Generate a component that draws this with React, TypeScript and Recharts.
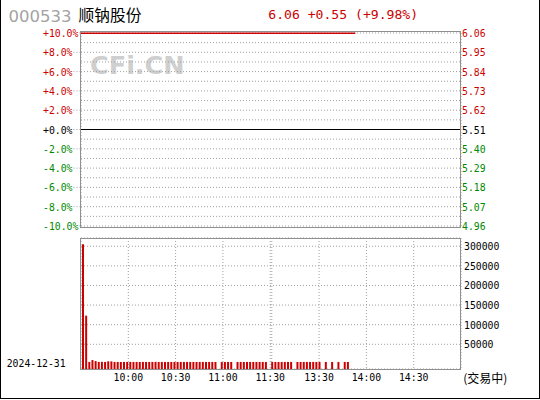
import {
  Bar,
  BarChart,
  CartesianGrid,
  ComposedChart,
  Line,
  ReferenceLine,
  XAxis,
  YAxis,
} from 'recharts';

// ── quote header ──────────────────────────────────────────────
const STOCK_CODE = '000533';
const STOCK_NAME = '顺钠股份';
const TRADE_DATE = '2024-12-31';
const STATUS_TEXT = '(交易中)';
const PREV_CLOSE = 5.51;
const LAST_PRICE = 6.06;

// ── intraday price (minutes since 9:30, lunch collapsed: 13:00 = 121) ──
const PRICE_TIME = [0, 174];
const PRICE = [6.06, 6.06];

const PCT_TICKS = [-10, -9, -8, -7, -6, -5, -4, -3, -2, -1, 0, 1, 2, 3, 4, 5, 6, 7, 8, 9, 10];
const TIME_GRID = [30, 60, 90, 120, 121, 151, 181, 211];
const TIME_LABELS: Record<number, string> = {
  30: '10:00',
  60: '10:30',
  90: '11:00',
  120: '11:30',
  151: '13:30',
  181: '14:00',
  211: '14:30',
};

// ── volume, one bar per 2-minute bucket starting 9:31 ──
const VOL_START = 1;
const VOL_STEP = 2;
const VOLUME = [
  305000, 123000, 5000, 9800, 7200, 5000, 5200, 5000, 6600, 6400,
  5000, 5000, 4900, 5000, 5000, 5100, 5000, 5000, 4900, 5000,
  5000, 5000, 5000, 5200, 5000, 5000, 4900, 5000, 5000, 5000,
  5000, 5100, 5000, 5000, 5000, 5000, 4900, 5000, 5000, 5000,
  5000, 5000, 5000, 0, 5000, 5000, 5000, 5000, 0, 5000,
  5000, 4900, 5000, 5000, 5000, 5000, 5000, 5000, 5000, 0,
  5000, 5000, 5000, 5000, 5000, 5000, 5000, 0, 5000, 5000,
  5000, 5000, 5000, 5000, 5000, 5000, 0, 5000, 0, 5000,
  0, 5000, 0, 5000, 5000,
];
const VOL_TICKS = [50000, 100000, 150000, 200000, 250000, 300000];
const VOL_DOMAIN: [number, number] = [-13000, 321000];

// ── look ──
const RED = '#cc0000';
const GREEN = '#008800';
const GRID = '#a0a0a0';
const FRAME = '#909090';
const MONO = '"DejaVu Sans Mono", monospace';
const TICK_FONT = 9.8;
const CHAR_W = TICK_FONT * 0.602;
const PLOT_LEFT = 80;
const PLOT_RIGHT = 461;
const TIME_DOMAIN: [number, number] = [0, 241];

function signColor(v: number) {
  if (v > 0) return RED;
  if (v < 0) return GREEN;
  return '#000';
}

const priceRows = PRICE_TIME.map((t, i) => ({
  t,
  pct: (PRICE[i] / PREV_CLOSE - 1) * 100,
}));

const volRows = VOLUME.map((v, i) => ({
  t: VOL_START + i * VOL_STEP,
  range: v > 0 ? [VOL_DOMAIN[0], v] : null,
}));

const change = LAST_PRICE - PREV_CLOSE;
const changePct = (change / PREV_CLOSE) * 100;
const quoteText = `${LAST_PRICE.toFixed(2)} ${change >= 0 ? '+' : ''}${change.toFixed(2)} (${
  changePct >= 0 ? '+' : ''
}${changePct.toFixed(2)}%)`;

// percent label on the left, matching price on the right (every 2%)
function PctTick(props: any) {
  const { y, payload } = props;
  const v = payload.value as number;
  if (v % 2 !== 0) return <g />;
  const label = `${v >= 0 ? '+' : ''}${v.toFixed(1)}%`;
  const price = PREV_CLOSE * (1 + v / 100);
  const x0 = 43;
  const end = x0 + label.length * CHAR_W + 1;
  return (
    <g>
      <text x={x0} y={y + 4} fontFamily={MONO} fontSize={TICK_FONT} fill={signColor(v)}>
        {label}
      </text>
      {end < PLOT_LEFT && (
        <line x1={end} x2={PLOT_LEFT} y1={y} y2={y} stroke={GRID} strokeDasharray="1 2" />
      )}
      <text x={PLOT_RIGHT + 1} y={y + 4} fontFamily={MONO} fontSize={TICK_FONT} fill={signColor(v)}>
        {price.toFixed(2)}
      </text>
    </g>
  );
}

function VolTick(props: any) {
  const { y, payload } = props;
  return (
    <text x={464} y={y + 4} fontFamily={MONO} fontSize={TICK_FONT} fill="#000">
      {payload.value}
    </text>
  );
}

function TimeTick(props: any) {
  const { x, payload } = props;
  const label = TIME_LABELS[payload.value as number];
  if (!label) return <g />;
  return (
    <text x={x} y={380.5} textAnchor="middle" fontFamily={MONO} fontSize={TICK_FONT} fill="#000">
      {label}
    </text>
  );
}

const abs = { position: 'absolute' as const, left: 0, top: 0 };

export default function App() {
  return (
    <div style={{ ...abs, width: 540, height: 400, background: '#fff' }}>
      {/* outer frame */}
      <div
        style={{
          ...abs,
          width: 540,
          height: 399,
          boxSizing: 'border-box',
          borderLeft: '1px solid #000',
          borderRight: '1px solid #000',
          borderBottom: '1px solid #000',
        }}
      />

      {/* watermark under the grid */}
      <svg width={540} height={100} style={abs}>
        <text
          x={90}
          y={74.3}
          fontFamily='"DejaVu Sans", sans-serif'
          fontWeight="bold"
          fontSize={25.5}
          fill="#cfcfcf"
        >
          CFi.CN
        </text>
      </svg>

      {/* price panel */}
      <div style={abs}>
        <ComposedChart
          width={540}
          height={240}
          data={priceRows}
          margin={{ top: 33, right: 79, bottom: 13, left: 41 }}
        >
          <CartesianGrid yAxisId="pct" stroke={GRID} strokeDasharray="1 2" />
          <XAxis
            dataKey="t"
            type="number"
            domain={TIME_DOMAIN}
            ticks={TIME_GRID}
            interval={0}
            tick={false}
            axisLine={false}
            tickLine={false}
            height={1}
          />
          <YAxis
            yAxisId="pct"
            type="number"
            domain={[-10, 10]}
            ticks={PCT_TICKS}
            interval={0}
            width={40}
            axisLine={false}
            tickLine={false}
            tick={<PctTick />}
          />
          <ReferenceLine yAxisId="pct" y={0} stroke="#000" strokeWidth={1} />
          <Line
            yAxisId="pct"
            dataKey="pct"
            stroke={RED}
            strokeWidth={1.5}
            dot={false}
            isAnimationActive={false}
          />
        </ComposedChart>
      </div>

      {/* volume panel */}
      <div style={abs}>
        <BarChart
          width={540}
          height={400}
          data={volRows}
          margin={{ top: 238, right: 39, bottom: 1, left: 81 }}
        >
          <CartesianGrid yAxisId="vol" stroke={GRID} strokeDasharray="1 2" />
          <XAxis
            dataKey="t"
            type="number"
            domain={TIME_DOMAIN}
            ticks={TIME_GRID}
            interval={0}
            axisLine={false}
            tickLine={false}
            height={30}
            tick={<TimeTick />}
          />
          <YAxis
            yAxisId="vol"
            orientation="right"
            type="number"
            domain={VOL_DOMAIN}
            ticks={VOL_TICKS}
            interval={0}
            width={40}
            axisLine={false}
            tickLine={false}
            tick={<VolTick />}
          />
          <Bar yAxisId="vol" dataKey="range" fill={RED} barSize={2} isAnimationActive={false} />
        </BarChart>
      </div>

      {/* panel borders */}
      <div
        style={{
          position: 'absolute',
          left: 80,
          top: 31,
          width: 381,
          height: 197,
          boxSizing: 'border-box',
          border: `1px solid ${FRAME}`,
        }}
      />
      <div
        style={{
          position: 'absolute',
          left: 80,
          top: 238,
          width: 381,
          height: 132,
          boxSizing: 'border-box',
          border: `1px solid ${FRAME}`,
        }}
      />

      {/* header and footer text */}
      <svg width={540} height={400} style={{ ...abs, pointerEvents: 'none' }}>
        <text x={8.6} y={22.4} fontFamily='"DejaVu Sans", sans-serif' fontSize={16.5} fill="#a3a3a3">
          {STOCK_CODE}
        </text>
        <text x={78.6} y={21} fontFamily='"Noto Sans CJK SC", sans-serif' fontSize={15.7} fill="#000">
          {STOCK_NAME}
        </text>
        <text x={268.3} y={19.3} fontFamily={MONO} fontSize={13.1} fill={RED}>
          {quoteText}
        </text>
        <text x={6.7} y={367.3} fontFamily={MONO} fontSize={TICK_FONT} fill="#000">
          {TRADE_DATE}
        </text>
        <text x={463.3} y={383} fontFamily='"Noto Sans CJK SC", sans-serif' fontSize={12} fill="#000">
          {STATUS_TEXT}
        </text>
      </svg>
    </div>
  );
}
